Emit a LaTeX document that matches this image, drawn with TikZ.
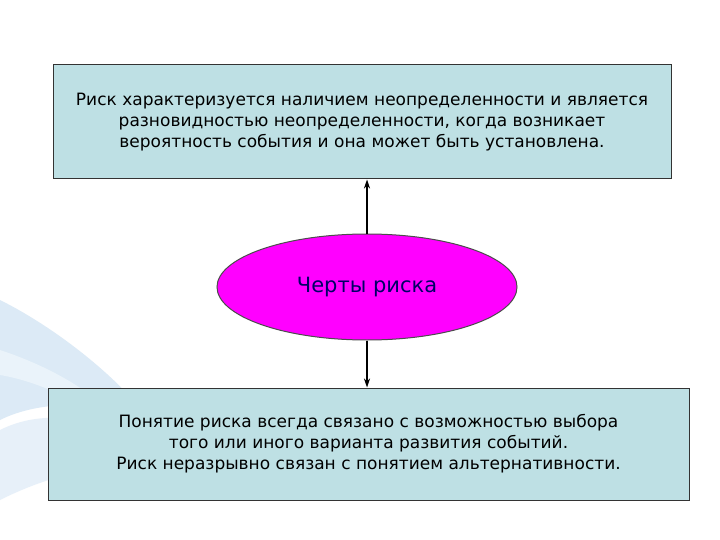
\documentclass[tikz,border=0pt]{standalone}
\usepackage{fontspec}
\setmainfont{DejaVu Sans}
\usetikzlibrary{shapes.geometric,arrows.meta}
\definecolor{boxblue}{HTML}{BEE0E4}
\definecolor{mag}{HTML}{FF00FF}
\definecolor{swirl}{HTML}{DCEAF6}
\begin{document}
\begin{tikzpicture}[x=1pt,y=-1pt,
  box/.style={draw=black!80,fill=boxblue,line width=1pt,align=center,font=\fontsize{17}{21}\selectfont,inner sep=0pt},
  conn/.style={-{Stealth[length=9pt,width=6pt]},line width=1.3pt}]
\useasboundingbox (0,0) rectangle (720,540);
\fill[white] (0,0) rectangle (720,540);
% background swirl
\fill[swirl] (0,300) .. controls (60,330) and (120,380) .. (150,420) .. controls (100,400) and (40,400) .. (0,420) -- cycle;
\fill[swirl!70] (0,430) .. controls (60,400) and (130,430) .. (170,470) .. controls (120,460) and (60,470) .. (0,500) -- cycle;
\fill[swirl!60] (0,350) .. controls (30,360) and (80,380) .. (120,420) -- (100,420) .. controls (70,395) and (30,380) .. (0,375) -- cycle;
\node[box,minimum width=618pt,minimum height=114pt] (top) at (362,122)
 {Риск характеризуется наличием неопределенности и является\\разновидностью неопределенности, когда возникает\\вероятность события и она может быть установлена.};
\node[box,minimum width=641pt,minimum height=112pt] (bot) at (368.5,444)
 {Понятие риска всегда связано с возможностью выбора\\того или иного варианта развития событий.\\Риск неразрывно связан с понятием альтернативности.};
\node[ellipse,draw=black!70,line width=1pt,fill=mag,minimum width=300pt,minimum height=106pt,inner sep=0pt,
  font=\fontsize{21}{24}\selectfont,text=black!60!blue] (e) at (367,287) {Черты риска};
\draw[conn] (e.north) -- (top.south -| e.north);
\draw[conn] (e.south) -- (bot.north -| e.south);
\end{tikzpicture}
\end{document}
